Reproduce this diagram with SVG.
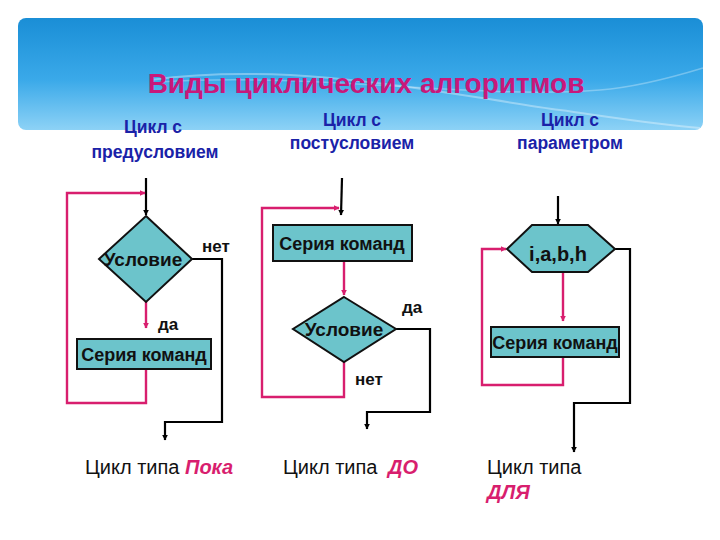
<svg xmlns="http://www.w3.org/2000/svg" width="720" height="540" viewBox="0 0 720 540">
<defs>
<linearGradient id="sky" x1="0" y1="0" x2="0" y2="1">
<stop offset="0" stop-color="#1a8ed6"/>
<stop offset="0.55" stop-color="#3aa9e9"/>
<stop offset="1" stop-color="#8dd2f6"/>
</linearGradient>
<marker id="ak" viewBox="0 0 10 10" refX="9" refY="5" markerWidth="6" markerHeight="6" orient="auto" markerUnits="userSpaceOnUse">
<path d="M0 0 L10 5 L0 10 z" fill="#000"/>
</marker>
<marker id="am" viewBox="0 0 10 10" refX="9" refY="5" markerWidth="6" markerHeight="6" orient="auto" markerUnits="userSpaceOnUse">
<path d="M0 0 L10 5 L0 10 z" fill="#d81e6e"/>
</marker>
</defs>
<style>
.blk{fill:none;stroke:#000;stroke-width:2.2}
.mag{fill:none;stroke:#d81e6e;stroke-width:2.4}
.shape{fill:#6cc4cb;stroke:#111;stroke-width:2}
.nt{font-family:"Liberation Sans",Arial,sans-serif;font-weight:bold;font-size:18px;fill:#111;text-anchor:middle}
.lb{font-family:"Liberation Sans",Arial,sans-serif;font-weight:bold;font-size:17px;fill:#111;text-anchor:middle}
.sub{font-family:"Liberation Sans",Arial,sans-serif;font-weight:bold;font-size:17.5px;fill:#1a22a8;text-anchor:middle}
.bt{font-family:"Liberation Sans",Arial,sans-serif;font-size:20px;fill:#111}
.bm{font-family:"Liberation Sans",Arial,sans-serif;font-size:20px;font-weight:bold;font-style:italic;fill:#d81e6e}
</style>
<rect width="720" height="540" fill="#fff"/>
<g id="banner">
<rect x="18" y="18" width="685" height="112" rx="8" fill="url(#sky)"/>
<path d="M150 80 C300 60 450 95 560 110 C610 117 660 125 700 128" fill="none" stroke="#ffffff" stroke-opacity="0.35" stroke-width="2"/>
<path d="M160 82 C320 72 470 100 600 90 C640 87 680 75 703 68" fill="none" stroke="#ffffff" stroke-opacity="0.3" stroke-width="1.5"/>
<text x="366" y="93" text-anchor="middle" font-family="Liberation Sans, Arial, sans-serif" font-weight="bold" font-size="28" fill="#c8187a">Виды циклических алгоритмов</text>
</g>
<g id="subtitles">
<text class="sub" x="153" y="133">Цикл с</text>
<text class="sub" x="155" y="158">предусловием</text>
<text class="sub" x="352" y="126">Цикл с</text>
<text class="sub" x="352" y="149">постусловием</text>
<text class="sub" x="570" y="126">Цикл с</text>
<text class="sub" x="570" y="149">параметром</text>
</g>
<g id="connectors">
<path class="blk" d="M146 178 V215" marker-end="url(#ak)"/>
<path class="mag" d="M146 302 V328" marker-end="url(#am)"/>
<path class="mag" d="M146 369 V403 H67 V193 H145" marker-end="url(#am)"/>
<path class="blk" d="M192 259 H222 V422 H165 V440" marker-end="url(#ak)"/>
<path class="blk" d="M342 178 L341 215" marker-end="url(#ak)"/>
<path class="mag" d="M344 261 V295" marker-end="url(#am)"/>
<path class="blk" d="M396 329 H430 V412 H367 V429" marker-end="url(#ak)"/>
<path class="mag" d="M344 362 V397 H262 V208 H339" marker-end="url(#am)"/>
<path class="blk" d="M558 196 V224" marker-end="url(#ak)"/>
<path class="mag" d="M563 272 V321" marker-end="url(#am)"/>
<path class="mag" d="M563 357 V385 H482 V249 H506" marker-end="url(#am)"/>
<path class="blk" d="M615 249 H630 V403 H574 V452" marker-end="url(#ak)"/>
</g>
<g id="cond1">
<polygon class="shape" points="146,216 192,259 146,302 99,259"/>
<text class="nt" x="143" y="266" style="font-size:19px">Условие</text>
</g>
<g id="series1">
<rect class="shape" x="77" y="339" width="134" height="30"/>
<text class="nt" x="144" y="361">Серия команд</text>
</g>
<g id="labels1">
<text class="lb" x="216" y="252">нет</text>
<text class="lb" x="168" y="330">да</text>
</g>
<g id="series2">
<rect class="shape" x="273" y="225" width="139" height="36"/>
<text class="nt" x="342" y="250">Серия команд</text>
</g>
<g id="cond2">
<polygon class="shape" points="344,297 396,329 344,362 293,329"/>
<text class="nt" x="344" y="336" style="font-size:19px">Условие</text>
</g>
<g id="labels2">
<text class="lb" x="412" y="313">да</text>
<text class="lb" x="369" y="385">нет</text>
</g>
<g id="param">
<polygon class="shape" points="507,249 532,225 588,225 615,249 588,272 532,272"/>
<text class="nt" x="558" y="261" style="font-size:20px">i,a,b,h</text>
</g>
<g id="series3">
<rect class="shape" x="491" y="327" width="128" height="30"/>
<text class="nt" x="555" y="349">Серия команд</text>
</g>
<g id="captions">
<text class="bt" x="85" y="474">Цикл типа <tspan class="bm">Пока</tspan></text>
<text class="bt" x="283" y="474">Цикл типа <tspan class="bm" dx="5">ДО</tspan></text>
<text class="bt" x="487" y="474">Цикл типа</text>
<text class="bm" x="487" y="499">ДЛЯ</text>
</g>
</svg>
